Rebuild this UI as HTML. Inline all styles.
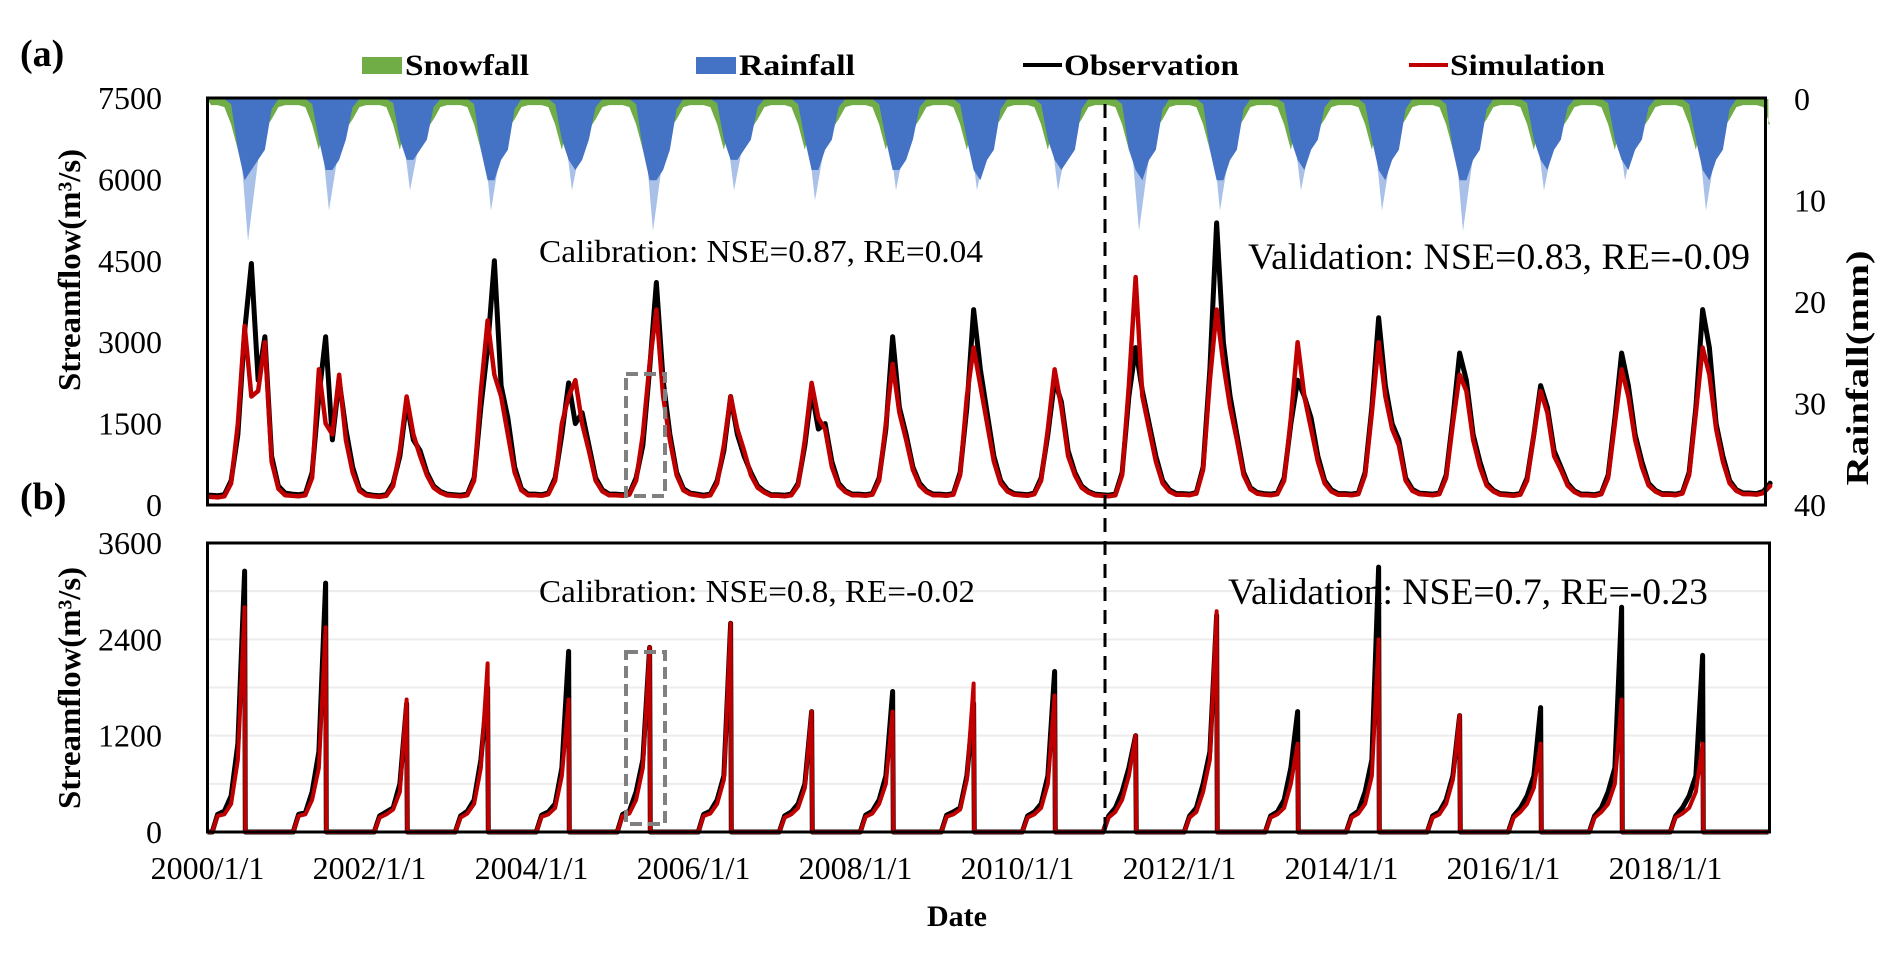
<!DOCTYPE html>
<html><head><meta charset="utf-8"><style>
body{margin:0;background:#fff}
svg{display:block}
text{font-family:"Liberation Serif",serif;fill:#000}
</style></head><body>
<svg id="chart" width="1892" height="957" viewBox="0 0 1892 957" xmlns="http://www.w3.org/2000/svg">
<g id="rainLayer"></g>
<g id="gridB"></g>
<g id="linesA"></g>
<g id="linesB"></g>
<rect x="207.5" y="98" width="1558" height="407" fill="none" stroke="#000" stroke-width="3"/>
<rect x="207.5" y="543" width="1562" height="289" fill="none" stroke="#000" stroke-width="3"/>
<line x1="1105" y1="104" x2="1105" y2="838" stroke="#000" stroke-width="3" stroke-dasharray="14,9"/>
<rect x="626" y="374" width="39" height="122" fill="none" stroke="#808080" stroke-width="4" stroke-dasharray="12,6"/>
<rect x="626" y="652" width="39" height="172" fill="none" stroke="#808080" stroke-width="4" stroke-dasharray="12,6"/>
<g id="ticks"></g>
<text x="20" y="66" font-size="38" font-weight="bold">(a)</text>
<text x="20" y="509" font-size="38" font-weight="bold">(b)</text>
<g>
<rect x="362" y="57" width="40" height="17" fill="#70ad47"/>
<text x="405" y="75" font-size="30" font-weight="bold" textLength="124" lengthAdjust="spacingAndGlyphs">Snowfall</text>
<rect x="696" y="57" width="40" height="17" fill="#4472c4"/>
<text x="739" y="75" font-size="30" font-weight="bold" textLength="116" lengthAdjust="spacingAndGlyphs">Rainfall</text>
<line x1="1023" y1="65" x2="1062" y2="65" stroke="#000" stroke-width="4"/>
<text x="1064" y="75" font-size="30" font-weight="bold" textLength="175" lengthAdjust="spacingAndGlyphs">Observation</text>
<line x1="1409" y1="65" x2="1448" y2="65" stroke="#c00000" stroke-width="4"/>
<text x="1450" y="75" font-size="30" font-weight="bold" textLength="155" lengthAdjust="spacingAndGlyphs">Simulation</text>
</g>
<text x="539" y="262" font-size="32" textLength="444" lengthAdjust="spacingAndGlyphs">Calibration: NSE=0.87, RE=0.04</text>
<text x="1248" y="269" font-size="37" textLength="502" lengthAdjust="spacingAndGlyphs">Validation: NSE=0.83, RE=-0.09</text>
<text x="539" y="602" font-size="32" textLength="436" lengthAdjust="spacingAndGlyphs">Calibration: NSE=0.8, RE=-0.02</text>
<text x="1228" y="604" font-size="37" textLength="480" lengthAdjust="spacingAndGlyphs">Validation: NSE=0.7, RE=-0.23</text>
<text transform="translate(80,270) rotate(-90)" text-anchor="middle" font-size="32" font-weight="bold" textLength="242" lengthAdjust="spacingAndGlyphs">Streamflow(m³/s)</text>
<text transform="translate(80,688) rotate(-90)" text-anchor="middle" font-size="32" font-weight="bold" textLength="242" lengthAdjust="spacingAndGlyphs">Streamflow(m³/s)</text>
<text transform="translate(1868,368) rotate(-90)" text-anchor="middle" font-size="32" font-weight="bold" textLength="235" lengthAdjust="spacingAndGlyphs">Rainfall(mm)</text>
<text x="957" y="926" text-anchor="middle" font-size="30" font-weight="bold">Date</text>
</svg>
<script>
const years = [2000,2001,2002,2003,2004,2005,2006,2007,2008,2009,2010,2011,2012,2013,2014,2015,2016,2017,2018,2019];
const aObs = [
[180,170,190,450,1300,3200,4450,2300,3100,900,350,220],
[200,190,210,600,2000,3100,1200,2300,1400,700,300,200],
[180,170,190,400,900,1900,1200,1000,600,350,250,200],
[190,180,200,500,1800,2900,4500,2200,1600,700,300,200],
[200,190,220,500,1300,2250,1500,1700,1100,500,280,200],
[200,190,210,500,1100,2500,4100,2300,1300,600,300,220],
[200,180,200,450,1000,2000,1300,900,600,350,250,190],
[190,180,200,400,1100,2100,1400,1500,800,400,260,200],
[200,190,210,500,1400,3100,1800,1300,700,400,260,200],
[200,190,210,600,1800,3600,2500,1700,900,450,280,210],
[200,190,220,500,1300,2300,1900,1000,600,350,250,200],
[190,180,200,600,2000,2900,2100,1500,900,450,280,210],
[210,200,230,700,2500,5200,3000,2000,1300,600,320,230],
[210,200,220,500,1500,2300,2000,1600,900,450,280,210],
[210,200,220,600,1800,3450,2200,1500,1200,500,290,220],
[210,200,220,550,1600,2800,2300,1300,800,400,270,210],
[200,190,210,500,1300,2200,1800,1000,700,400,260,200],
[200,190,220,550,1600,2800,2200,1300,800,400,270,210],
[210,200,230,600,1800,3600,2900,1500,900,450,280,220],
[220,210,250,400]];
const aSim = [
[150,140,160,400,1500,3300,2000,2100,3000,800,300,180],
[170,160,180,500,2500,1500,1300,2400,1200,600,260,180],
[160,150,170,350,1000,2000,1300,900,550,320,230,180],
[170,160,180,450,2100,3400,2400,2000,1300,600,270,180],
[180,170,200,450,1500,2000,2300,1500,1000,450,250,180],
[180,170,190,450,1300,2600,3600,2000,1200,550,270,200],
[180,160,180,400,1100,2000,1400,1000,550,320,230,170],
[170,160,180,360,1200,2250,1600,1400,700,360,240,180],
[180,170,190,450,1500,2600,1700,1200,650,360,240,180],
[180,170,190,550,2000,2900,2200,1500,800,400,250,190],
[180,170,200,450,1400,2500,1800,900,550,320,230,180],
[170,160,180,550,2200,4200,2000,1400,800,400,250,190],
[190,180,210,650,2300,3600,2600,1800,1200,550,290,210],
[190,180,200,450,1600,3000,2000,1400,800,400,250,190],
[190,180,200,550,1700,3000,2000,1400,1100,450,260,200],
[190,180,200,500,1500,2400,2100,1200,700,360,250,190],
[180,170,190,450,1300,2100,1700,900,650,360,240,180],
[180,170,200,500,1500,2500,2000,1200,700,360,250,190],
[190,180,210,550,1700,2900,2400,1400,800,400,260,200],
[200,190,220,350]];
// panel b: values for months Feb..Jun (other months zero flow)
const bSeasonMonths = [1,2,3,4,5];
const bObs = [
[220,260,450,1100,3250],[220,240,500,1000,3100],[200,250,300,600,1600],[200,260,400,900,1800],
[210,250,350,800,2250],[220,260,500,900,2300],[220,260,400,700,2600],[200,250,350,600,1500],
[210,260,400,700,1750],[210,250,300,700,1600],[200,250,350,700,2000],[200,300,500,800,1200],
[200,300,600,1000,2700],[200,250,400,800,1500],[200,260,500,900,3300],[200,250,400,700,1450],
[200,300,450,700,1550],[200,300,500,800,2800],[200,300,450,700,2200]];
const bSim = [
[200,220,350,900,2800],[200,220,400,800,2550],[180,220,280,500,1650],[180,230,350,800,2100],
[190,220,300,700,1650],[200,230,400,800,2300],[200,230,350,650,2600],[180,220,300,550,1500],
[190,230,350,600,1500],[190,220,280,650,1850],[180,220,300,600,1700],[180,250,400,700,1200],
[180,250,500,900,2750],[180,220,300,600,1100],[180,230,350,700,2400],[180,220,350,650,1450],
[180,250,350,550,1100],[180,250,350,600,1650],[180,230,300,500,1100]];
// rainfall (mm), monthly dense depth per year
const rainDense = [
[0,0,0,0.5,5,8,7,6,5,1,0,0],[0,0,0,0.5,4,7,7,6,4,0.8,0,0],[0,0,0,0.4,4,6,6,5,4,0.8,0,0],
[0,0,0,0.5,5,8,8,6,5,1,0,0],[0,0,0,0.5,4,6,7,6,4,0.8,0,0],[0,0,0,0.5,5,8,8,7,5,1,0,0],
[0,0,0,0.4,4,6,6,5,4,0.8,0,0],[0,0,0,0.5,4,7,7,5,4,0.8,0,0],[0,0,0,0.5,4,7,7,6,4,0.8,0,0],
[0,0,0,0.5,4,7,8,6,5,1,0,0],[0,0,0,0.5,4,6,7,6,5,1,0,0],[0,0,0,0.5,5,7,8,6,5,1,0,0],
[0,0,0,0.5,5,8,8,6,5,1,0,0],[0,0,0,0.4,4,6,7,5,4,0.8,0,0],[0,0,0,0.5,4,7,8,6,5,1,0,0],
[0,0,0,0.5,5,8,8,6,5,1,0,0],[0,0,0,0.4,4,6,7,5,4,0.8,0,0],[0,0,0,0.4,4,6,7,5,4,0.8,0,0],
[0,0,0,0.5,4,7,8,6,5,1,0,0],[0,0,0,0]];
const rainPeak = [14,11,9,11,9,13,9,10,9,9,9,13,11,9,11,13,9,8,11];
const snowMonthly = [0.6,0.6,0.8,2.5,5,2,1,1,3,2,0.8,0.6];
const tickA = [0,1500,3000,4500,6000,7500];
const tickB = [0,1200,2400,3600];
const tickRain = [0,10,20,30,40];
const xTickLabels = ['2000/1/1','2002/1/1','2004/1/1','2006/1/1','2008/1/1','2010/1/1','2012/1/1','2014/1/1','2016/1/1','2018/1/1'];
const xTickYears = [0,2,4,6,8,10,12,14,16,18];

const NS='http://www.w3.org/2000/svg';
const X0=207.5, PXY=81;
const xs = t => X0 + t*PXY;
const yA = v => 505 - v/7500*407;
const yB = v => 832 - v/3600*289;
const yR = mm => 99 + mm/40*406;
function mk(tag, attrs, parent){const e=document.createElementNS(NS,tag);for(const k in attrs)e.setAttribute(k,attrs[k]);parent.appendChild(e);return e;}

const rainG=document.getElementById('rainLayer');
let snowPts=[[xs(0),yR(0)]];
years.forEach((y,i)=>{rainDense[i].forEach((v,m)=>{snowPts.push([xs(i+(m+0.5)/12),yR(snowMonthly[m])]);});});
snowPts.push([xs(19.27),yR(snowMonthly[3])],[xs(19.27),yR(0)]);
const snow=mk('polygon',{points:snowPts.map(p=>p.join(',')).join(' '),fill:'#70ad47'},rainG);


years.forEach((y,i)=>{
  if(i<rainPeak.length){
    const p=mk('polygon',{points:`${xs(i+0.36)},${yR(0)} ${xs(i+0.5)},${yR(rainPeak[i])} ${xs(i+0.72)},${yR(0)}`,fill:'#a9c1e8'},rainG);
    
    
  }
  const pts=[[xs(i+0.3),yR(0)]];
  rainDense[i].forEach((v,m)=>pts.push([xs(i+(m+0.5)/12),yR(v)]));
  pts.push([xs(i+rainDense[i].length/12),yR(0)]);
  const r=mk('polygon',{points:pts.map(p=>p.join(',')).join(' '),fill:'#4472c4'},rainG);
  
  
});

const gb=document.getElementById('gridB');
[600,1200,1800,2400,3000].forEach(v=>{
  const l=mk('line',{x1:X0,x2:1769,y1:yB(v),y2:yB(v),stroke:'#ececec','stroke-width':2},gb);
  
  
});

function lineA(data,color,w,name){
  const pts=[[xs(0),yA(data[0][0])]];
  data.forEach((row,i)=>row.forEach((v,m)=>pts.push([xs(i+(m+0.5)/12),yA(v)])));
  pts.push([xs(19.27),yA(data[data.length-1][data[data.length-1].length-1])]);
  const p=mk('polyline',{points:pts.map(p=>p.join(',')).join(' '),fill:'none',stroke:color,'stroke-width':w,'stroke-linejoin':'round'},document.getElementById('linesA'));
  
  
}
lineA(aObs,'#000',5,'panel-a-observation-line');
lineA(aSim,'#c00000',4.5,'panel-a-simulation-line');

function lineB(data,color,w,name){
  const pts=[[xs(0),yB(0)]];
  data.forEach((row,i)=>{
    pts.push([xs(i+(bSeasonMonths[0]-0.3)/12),yB(0)]);
    row.forEach((v,k)=>pts.push([xs(i+(bSeasonMonths[k]+0.5)/12),yB(v)]));
    pts.push([xs(i+(bSeasonMonths[bSeasonMonths.length-1]+0.6)/12),yB(0)]);
  });
  pts.push([xs(19.27),yB(0)]);
  const p=mk('polyline',{points:pts.map(p=>p.join(',')).join(' '),fill:'none',stroke:color,'stroke-width':w,'stroke-linejoin':'round'},document.getElementById('linesB'));
  
  
}
lineB(bObs,'#000',5,'panel-b-observation-line');
lineB(bSim,'#c00000',4,'panel-b-simulation-line');

const tg=document.getElementById('ticks');
tickA.forEach(v=>{const t=mk('text',{x:162,y:yA(v)+11,'text-anchor':'end','font-size':32},tg);t.textContent=v;
  
  });
tickB.forEach(v=>{const t=mk('text',{x:162,y:yB(v)+11,'text-anchor':'end','font-size':32},tg);t.textContent=v;
  
  });
tickRain.forEach(v=>{const t=mk('text',{x:1794,y:yR(v)+11,'font-size':32},tg);t.textContent=v;
  
  });
xTickLabels.forEach((s,i)=>{const t=mk('text',{x:xs(xTickYears[i]),y:879,'text-anchor':'middle','font-size':32},tg);t.textContent=s;
  
  });
</script>
</body></html>
